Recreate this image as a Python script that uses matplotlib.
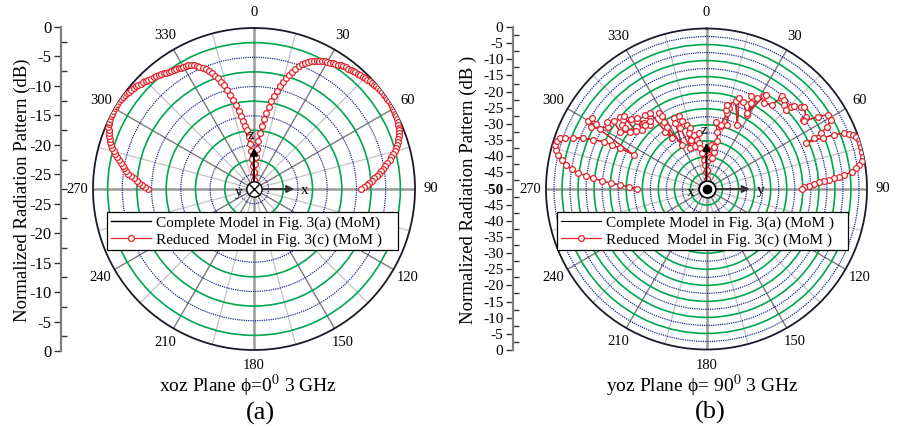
import numpy as np
import matplotlib
matplotlib.use('Agg')
import matplotlib.pyplot as plt

plt.rcParams['font.family'] = ['Liberation Serif', 'DejaVu Serif']
plt.rcParams['mathtext.fontset'] = 'stix'

# (a) xoz plane, theta from -90 to 90 deg (1 deg step), normalized dB
xoz_theta = list(range(-90, 91))
xoz_reduced = [
    -9.4, -8.9, -8.4, -7.9, -7.4, -6.9, -6.4, -5.9, -5.5, -5.1,
    -4.7, -4.3, -3.9, -3.5, -3.1, -2.7, -2.3, -2.0, -1.7, -1.4,
    -1.1, -0.9, -0.7, -0.5, -0.35, -0.25, -0.15, -0.1, -0.05, 0.0,
    0.0, 0.0, 0.0, -0.05, -0.1, -0.15, -0.25, -0.35, -0.45, -0.55,
    -0.7, -0.8, -0.95, -1.1, -1.25, -1.4, -1.55, -1.7, -1.85, -2.0,
    -2.15, -2.3, -2.45, -2.6, -2.75, -2.9, -3.0, -3.1, -3.2, -3.3,
    -3.4, -3.5, -3.6, -3.8, -4.0, -4.3, -4.6, -5.0, -5.4, -5.9,
    -6.4, -7.0, -7.6, -8.3, -9.1, -10.0, -10.9, -11.9, -12.9, -13.9,
    -14.9, -15.8, -16.6, -17.4, -18.6, -19.8, -21.0, -22.3, -23.6, -24.8,
    -26.0,
    -24.6, -23.3, -22.0, -20.6, -19.2, -17.8, -16.6, -15.4, -14.3, -13.2,
    -12.2, -11.2, -10.3, -9.4, -8.6, -7.8, -7.1, -6.4, -5.8, -5.2,
    -4.7, -4.3, -3.9, -3.6, -3.3, -3.1, -2.9, -2.75, -2.6, -2.45,
    -2.3, -2.15, -2.0, -1.85, -1.7, -1.6, -1.5, -1.4, -1.3, -1.2,
    -1.1, -1.0, -0.9, -0.8, -0.7, -0.6, -0.5, -0.4, -0.3, -0.25,
    -0.2, -0.15, -0.1, -0.05, 0.0, 0.0, 0.0, 0.0, 0.0, -0.05,
    -0.1, -0.15, -0.2, -0.3, -0.4, -0.5, -0.65, -0.8, -1.0, -1.2,
    -1.45, -1.7, -2.0, -2.3, -2.65, -3.0, -3.4, -3.8, -4.3, -4.8,
    -5.2, -5.6, -6.0, -6.45, -6.9, -7.35, -7.8, -8.25, -8.7, -9.2,
]
xoz_complete_theta = list(range(-90, 91, 5))
xoz_complete = [
    -9.4, -6.9, -4.7, -2.7, -1.1, -0.25, 0.0, -0.15, -0.7, -1.4,
    -2.15, -2.9, -3.4, -4.6, -6.9, -10.5, -15.2, -20.0, -26.5,
    -19.4, -13.4, -8.7, -5.3, -3.35, -2.45, -1.7, -1.2, -0.7, -0.25,
    0.0, -0.05, -0.4, -1.2, -2.65, -4.8, -6.9, -9.2,
]

# (b) yoz plane (theta deg, dB)
yoz_theta = [
    -90.0, -88.3, -87.3, -86.6, -85.6, -84.6, -83.7, -83.0, -81.5, -80.3,
    -78.6, -77.0, -75.4, -73.8, -72.2, -70.9, -70.0, -68.9, -67.6, -66.5,
    -65.3, -65.0, -64.7, -64.9,
    -60.0, -58.2, -59.4, -62.0, -60.5, -57.5, -55.8, -54.0, -56.5, -53.5,
    -50.0, -50.2, -52.8, -53.2, -50.5, -48.8, -47.0, -45.8, -47.5, -44.4,
    -43.7, -41.2, -43.6, -39.8, -39.5, -36.5, -35.6, -34.1, -32.4, -32.2,
    -31.5, -32.2, -28.9, -24.8, -25.3, -21.0, -19.9, -23.2, -21.5, -16.8,
    -14.8, -17.6, -18.0, -13.2, -14.6, -10.7, -7.9, -9.6, -8.4, -6.9,
    -5.3, -2.4, -1.0, 0.0, 1.5, 3.0, 5.2, 4.0, 7.0, 10.5,
    11.1, 9.8, 12.7, 10.6, 7.6, 12.7, 12.3, 15.3, 17.9, 15.4,
    13.5, 13.8, 18.4, 25.6, 19.6, 22.5, 28.8, 27.2, 25.5, 29.2,
    28.3, 31.8, 32.1, 33.8, 38.0, 39.2, 39.4, 41.0, 43.2, 42.6,
    45.0, 45.6, 46.7, 48.8, 49.8, 53.9, 54.2, 55.3, 56.9, 58.5,
    60.9, 62.7, 63.9, 64.7, 65.2, 66.2, 67.0, 67.9, 68.8, 69.7,
    70.9, 72.2, 73.5, 74.8, 76.5, 78.3, 79.7, 81.0, 82.2, 83.2,
    84.2, 84.8, 85.2, 85.7, 86.2, 86.7, 87.5, 88.3, 89.0, 90.0,
]
yoz_db = [
    -28.3, -25.7, -23.1, -20.2, -17.3, -14.6, -12.2, -9.8, -7.6, -5.6,
    -4.0, -2.6, -1.6, -0.9, -1.0, -1.7, -3.1, -5.5, -8.5, -11.6,
    -14.7, -17.5, -20.3, -24.9,
    -7.4, -8.0, -10.1, -9.1, -11.8, -13.8, -12.6, -14.2, -17.8, -20.3,
    -14.9, -16.3, -16.9, -18.4, -21.5, -15.7, -17.8, -19.8, -22.8, -19.1,
    -21.6, -23.4, -22.4, -22.6, -20.0, -20.6, -28.0, -30.9, -25.1, -22.0,
    -23.5, -27.0, -34.3, -25.7, -27.3, -25.8, -27.6, -29.4, -36.3, -29.1,
    -30.4, -31.7, -33.9, -32.7, -36.3, -34.4, -32.4, -35.5, -37.2, -38.8,
    -40.9, -42.5, -44.6, -47.0, -44.0, -41.0, -36.2, -39.5, -39.8, -40.3,
    -38.1, -36.6, -34.8, -31.8, -28.8, -30.0, -29.5, -25.5, -29.0, -23.8,
    -24.6, -23.0, -21.2, -27.8, -19.9, -20.5, -23.6, -19.9, -18.0, -17.5,
    -23.1, -16.0, -15.3, -17.8, -16.7, -13.4, -12.7, -13.2, -14.0, -14.3,
    -15.1, -13.3, -12.5, -11.0, -10.2, -11.7, -13.1, -13.0, -8.7, -5.75,
    -5.7, -7.6, -10.3, -12.9, -15.9, -10.5, -6.8, -3.7, -2.4, -1.4,
    -0.6, 0.0, 0.0, 0.0, -0.1, -0.3, -0.9, -1.8, -2.9, -4.2,
    -6.9, -8.5, -10.1, -11.8, -13.3, -14.8, -16.5, -18.2, -19.5, -20.1,
]

angle_ticks = list(range(0, 360, 15))
label_every = 30
legend_labels = [
    ['Complete Model in Fig. 3(a) (MoM)', 'Reduced  Model in Fig. 3(c) (MoM )'],
    ['Complete Model in Fig. 3(a) (MoM )', 'Reduced  Model in Fig. 3(c) (MoM )'],
]

RED = '#e3262e'
GREEN = '#00a651'
BLUE = '#1c2f8f'

fig = plt.figure(figsize=(8.97, 4.30), dpi=100)


def setup_polar(ax, rmin, blue_on_five):
    ax.set_theta_zero_location('N')
    ax.set_theta_direction(-1)
    ax.set_ylim(rmin, 0)
    ax.set_axisbelow(True)
    rings = np.arange(rmin + 2.5, 0, 2.5)
    ax.set_yticks(rings)
    ax.set_yticklabels([])
    ax.yaxis.set_tick_params(length=0)
    for tick, r in zip(ax.yaxis.get_major_ticks(), rings):
        on_five = abs(r / 5 - round(r / 5)) < 1e-6
        if on_five == blue_on_five:
            tick.gridline.set_color(BLUE)
            tick.gridline.set_linestyle((0, (1, 0.8)))
            tick.gridline.set_linewidth(0.9)
        else:
            tick.gridline.set_color(GREEN)
            tick.gridline.set_linestyle('-')
            tick.gridline.set_linewidth(1.2)
    ax.set_xticks(np.deg2rad(angle_ticks))
    ax.set_xticklabels([str(a) if a % label_every == 0 else '' for a in angle_ticks])
    for tick, a in zip(ax.xaxis.get_major_ticks(), angle_ticks):
        if a % 90 == 0:
            tick.gridline.set_color('#9a9a9a')
            tick.gridline.set_linewidth(1.8)
        elif a % 30 == 0:
            tick.gridline.set_color('#7a7a7a')
            tick.gridline.set_linewidth(1.0)
        else:
            tick.gridline.set_color('#c4c4c4')
            tick.gridline.set_linewidth(0.9)
        tick.gridline.set_linestyle('-')
    ax.tick_params(axis='x', labelsize=10.5, pad=1.5, direction='inout', length=6, width=1)
    ax.spines['polar'].set_linewidth(1.3)
    ax.spines['polar'].set_color('#1a1a2a')


def side_axis(rect, half, labelsize):
    sa = fig.add_axes(rect)
    sa.set_ylim(0, 2 * half)
    for s in ['top', 'right', 'bottom']:
        sa.spines[s].set_visible(False)
    sa.spines['left'].set_color('#7f7f7f')
    sa.spines['left'].set_linewidth(1.6)
    sa.patch.set_alpha(0)
    sa.set_xticks([])
    major = np.arange(0, 2 * half + 0.01, 5)
    labels = []
    for p in major:
        v = -p if p <= half else p - 2 * half
        labels.append('0' if abs(v) < 1e-9 else '%d' % v)
    sa.set_yticks(major)
    sa.set_yticklabels(labels)
    sa.set_yticks(np.arange(2.5, 2 * half, 5), minor=True)
    sa.tick_params(axis='y', which='major', direction='out', length=5, width=1,
                   color='#333333', labelsize=labelsize, pad=2)
    sa.tick_params(axis='y', which='minor', direction='in', length=4, width=1,
                   color='#333333')
    for p, lab in zip(major, sa.get_yticklabels()):
        if abs(p - half) < 1e-9:
            lab.set_fontweight('bold')
    return sa


def center_axes_marks(ax, kind, z_len, h_len, h_name, o_name):
    ax.annotate('', xy=(0.5, 0.5 + z_len), xytext=(0.5, 0.5), xycoords='axes fraction',
                arrowprops=dict(arrowstyle='-|>', color='black', lw=1.3,
                                mutation_scale=11), zorder=6)
    ax.annotate('', xy=(0.5 + h_len, 0.5), xytext=(0.5, 0.5), xycoords='axes fraction',
                arrowprops=dict(arrowstyle='-|>', color='#333333', lw=1.3,
                                mutation_scale=11), zorder=6)
    ax.text(0.492, 0.5 + z_len + 0.03, 'z', transform=ax.transAxes, fontsize=11,
            ha='center', va='center', zorder=7)
    ax.text(0.5 + h_len + 0.025, 0.494, h_name, transform=ax.transAxes, fontsize=11,
            ha='center', va='center', zorder=7)
    ax.text(0.452, 0.49, o_name, transform=ax.transAxes, fontsize=11,
            ha='center', va='center', zorder=7)
    if kind == 'cross':
        ax.plot([0.5], [0.5], 'o', ms=11, mfc='white', mec='black', mew=1.0,
                transform=ax.transAxes, zorder=8)
        ax.plot([0.5], [0.5], 'x', ms=7, mec='black', mew=1.0,
                transform=ax.transAxes, zorder=9)
    else:
        ax.plot([0.5], [0.5], 'o', ms=12, mfc='white', mec='black', mew=1.2,
                transform=ax.transAxes, zorder=8)
        ax.plot([0.5], [0.5], 'o', ms=6, color='black', transform=ax.transAxes, zorder=9)


def add_legend(ax, handles, labels, x0):
    leg = ax.legend(handles, labels, loc='upper left', mode='expand',
                    bbox_to_anchor=(x0 / 897, 1 - 251 / 430, 291 / 897, 39 / 430),
                    bbox_transform=fig.transFigure, borderaxespad=0, fontsize=11,
                    frameon=True, fancybox=False, edgecolor='black', framealpha=1,
                    handlelength=2.6, borderpad=0.25, labelspacing=0.2,
                    handletextpad=0.35)
    leg.get_frame().set_linewidth(0.9)


# ---- (a) ----
ax1 = fig.add_axes([93 / 897, 80 / 430, 322 / 897, 322 / 430], projection='polar')
setup_polar(ax1, -27.5, blue_on_five=True)
l1, = ax1.plot(np.deg2rad(xoz_complete_theta), xoz_complete, color='black', lw=1.0, zorder=3)
l2, = ax1.plot(np.deg2rad(xoz_theta), xoz_reduced, color=RED, lw=0.9, marker='o', ms=4.2,
               mfc='white', mec=RED, mew=0.9, zorder=4)
center_axes_marks(ax1, 'cross', 44 / 322, 43 / 322, 'x', 'y')
add_legend(ax1, [l1, l2], legend_labels[0], 107)
side_axis([61 / 897, 79 / 430, 0.001, 324 / 430], 27.5, 12)

# ---- (b) ----
ax2 = fig.add_axes([546 / 897, 80.5 / 430, 321 / 897, 321 / 430], projection='polar')
setup_polar(ax2, -50, blue_on_five=False)
m1, = ax2.plot(np.deg2rad(yoz_theta), yoz_db, color='black', lw=0.8, zorder=3)
m2, = ax2.plot(np.deg2rad(yoz_theta), yoz_db, color=RED, lw=0.9, marker='o', ms=4.2,
               mfc='white', mec=RED, mew=0.9, zorder=4)
center_axes_marks(ax2, 'dot', 49 / 321, 46 / 321, 'y', 'x')
add_legend(ax2, [m1, m2], legend_labels[1], 557)
side_axis([513 / 897, 80 / 430, 0.001, 323 / 430], 50, 11)

# ---- texts ----
fig.text(22 / 897, 1 - 190 / 430, 'Normalized Radiation Pattern (dB)', rotation=90,
         ha='center', va='center', fontsize=13.5)
fig.text(468 / 897, 1 - 190 / 430, 'Normalized Radiation Pattern (dB )', rotation=90,
         ha='center', va='center', fontsize=13.5)
fig.text(248 / 897, 1 - 386 / 430, 'xoz Plane ϕ=0$^{0}$ 3 GHz', ha='center',
         va='center', fontsize=14)
fig.text(702 / 897, 1 - 386 / 430, 'yoz Plane ϕ= 90$^{0}$ 3 GHz', ha='center',
         va='center', fontsize=14)
fig.text(260 / 897, 1 - 413 / 430, '(a)', ha='center', va='center', fontsize=19)
fig.text(710 / 897, 1 - 412 / 430, '(b)', ha='center', va='center', fontsize=19)

fig.savefig('out.png', dpi=100, facecolor='white')
